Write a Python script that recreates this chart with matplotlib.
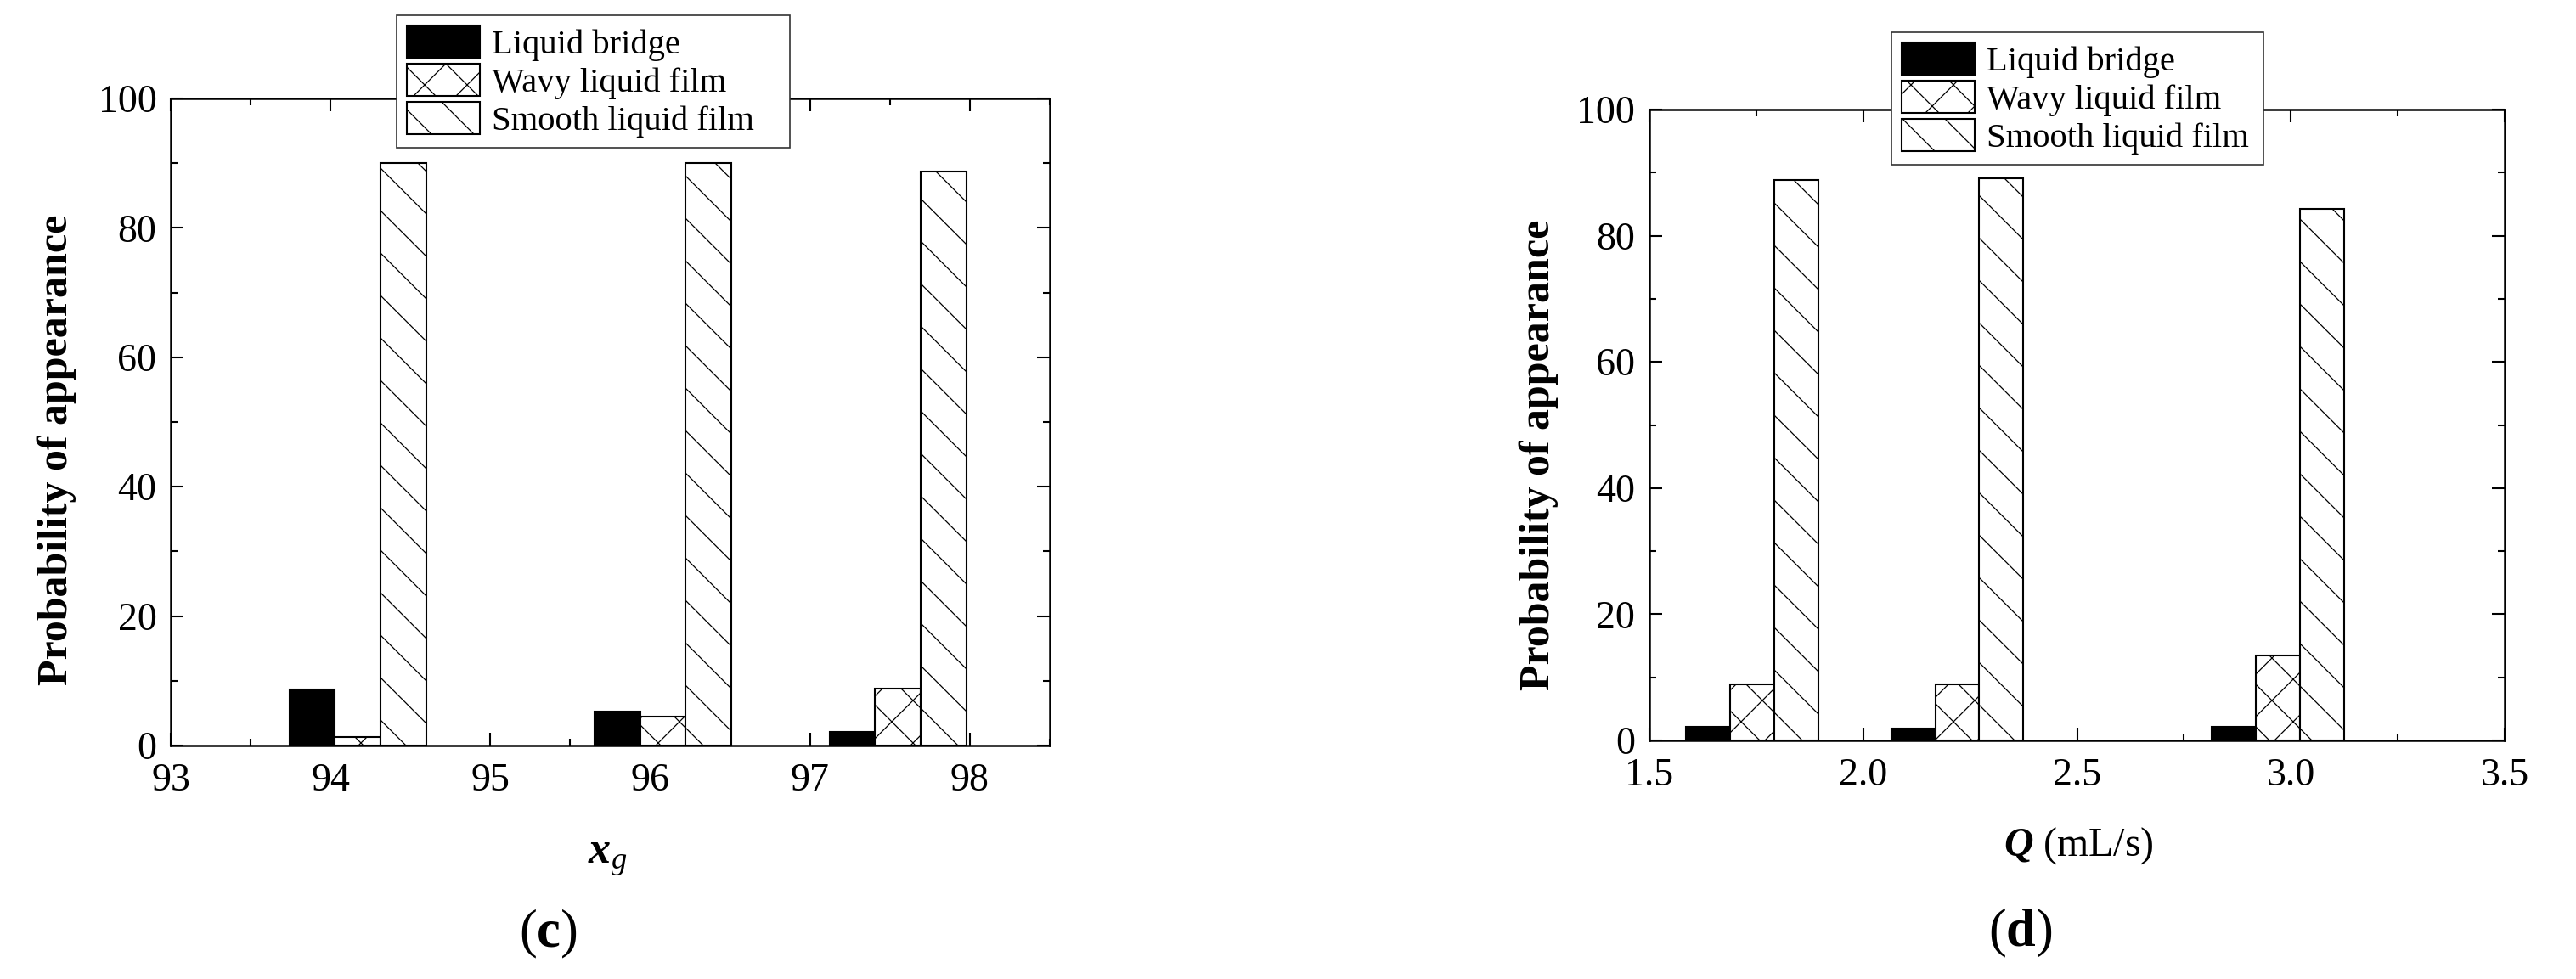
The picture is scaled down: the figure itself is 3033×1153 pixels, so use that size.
import matplotlib
matplotlib.use('Agg')
import matplotlib.pyplot as plt
from matplotlib.ticker import MultipleLocator
import numpy as np

plt.rcParams['font.family'] = ['Liberation Serif', 'DejaVu Serif']
plt.rcParams['mathtext.fontset'] = 'custom'
plt.rcParams['mathtext.rm'] = 'Liberation Serif'
plt.rcParams['mathtext.it'] = 'Liberation Serif:italic'
plt.rcParams['mathtext.bf'] = 'Liberation Serif:bold'
plt.rcParams['mathtext.bfit'] = 'Liberation Serif:bold:italic'
plt.rcParams['hatch.linewidth'] = 0.6

# ---------------- data ----------------
series_names = ['Liquid bridge', 'Wavy liquid film', 'Smooth liquid film']

xg_values = [94.17, 96.08, 97.55]
xg_bridge = [8.6, 5.3, 2.1]
xg_wavy = [1.3, 4.5, 8.8]
xg_smooth = [90.0, 90.0, 88.7]

q_values = [1.74, 2.22, 2.97]
q_bridge = [2.1, 1.9, 2.1]
q_wavy = [8.9, 8.9, 13.5]
q_smooth = [88.8, 89.1, 84.3]

xg_ticks = [93, 94, 95, 96, 97, 98]
q_ticks = [1.5, 2.0, 2.5, 3.0, 3.5]
y_ticks = [0, 20, 40, 60, 80, 100]

# ---------------- figure ----------------
W, H, DPI = 3033, 1153, 150
fig = plt.figure(figsize=(W / DPI, H / DPI), dpi=DPI)
fig.patch.set_facecolor('white')

axL = fig.add_axes([0.0663, 0.2385, 0.3412, 0.6609])
axR = fig.add_axes([0.6403, 0.2437, 0.3320, 0.6444])

styles = [dict(facecolor='black', hatch=None),
          dict(facecolor='white', hatch='x'),
          dict(facecolor='white', hatch='\\')]


def draw(ax, x, series, width, xlim, xticks, xminor, xfmt):
    x = np.asarray(x, dtype=float)
    for i, (vals, name, st) in enumerate(zip(series, series_names, styles)):
        ax.bar(x + (i - 1) * width, vals, width=width, align='center',
               facecolor=st['facecolor'], hatch=st['hatch'],
               edgecolor='black', linewidth=1.0, label=name, zorder=2)
    ax.set_xlim(*xlim)
    ax.set_ylim(0, 100)
    ax.set_xticks(xticks)
    ax.set_xticklabels([xfmt.format(t) for t in xticks])
    ax.xaxis.set_minor_locator(MultipleLocator(xminor))
    ax.set_yticks(y_ticks)
    ax.yaxis.set_minor_locator(MultipleLocator(10))
    ax.tick_params(which='both', direction='in', top=True, right=True,
                   width=1.0, labelsize=22, colors='black')
    ax.tick_params(axis='y', which='both', pad=8)
    ax.tick_params(axis='x', which='both', pad=10)
    ax.tick_params(which='major', length=7)
    ax.tick_params(which='minor', length=3.8)
    for s in ax.spines.values():
        s.set_linewidth(1.2)


draw(axL, xg_values, [xg_bridge, xg_wavy, xg_smooth], 0.285,
     (93, 98.5), xg_ticks, 0.5, '{:d}')
draw(axR, q_values, [q_bridge, q_wavy, q_smooth], 0.103,
     (1.5, 3.5), q_ticks, 0.25, '{:.1f}')


def legend(ax, x0, x1, y1):
    leg = ax.legend(loc='upper left',
                    bbox_to_anchor=(x0 / W, 1 - y1 / H, (x1 - x0) / W, 0.0),
                    bbox_transform=fig.transFigure, borderaxespad=0,
                    mode='expand',
                    fontsize=19.5, frameon=True, fancybox=False,
                    handlelength=2.1, handleheight=1.05, labelspacing=0.08,
                    handletextpad=0.35, borderpad=0.3)
    fr = leg.get_frame()
    fr.set_edgecolor('#333333')
    fr.set_linewidth(0.8)
    fr.set_facecolor('white')
    fr.set_alpha(1)
    leg.set_zorder(5)
    return leg


legend(axL, 467, 930, 18)
legend(axR, 2227, 2665, 38)

# axis labels
fig.text(67 / W, 1 - 530 / H, 'Probability of appearance', rotation=90,
         ha='center', va='center', fontsize=24, fontweight='bold')
fig.text(1812 / W, 1 - 536 / H, 'Probability of appearance', rotation=90,
         ha='center', va='center', fontsize=24, fontweight='bold')
fig.text(715 / W, 1 - 1010 / H, r'$\mathbfit{x}_{g}$',
         ha='center', va='center', fontsize=25)
fig.text(2447 / W, 1 - 996 / H, r'$\mathbfit{Q}$ (mL/s)',
         ha='center', va='center', fontsize=23)

# panel labels
fig.text(645 / W, 1 - 1100 / H, r'($\mathbf{c}$)', ha='center', va='center',
         fontsize=30)
fig.text(2379 / W, 1 - 1099 / H, r'($\mathbf{d}$)', ha='center', va='center',
         fontsize=30)

fig.savefig('out.png', dpi=DPI, facecolor='white')
